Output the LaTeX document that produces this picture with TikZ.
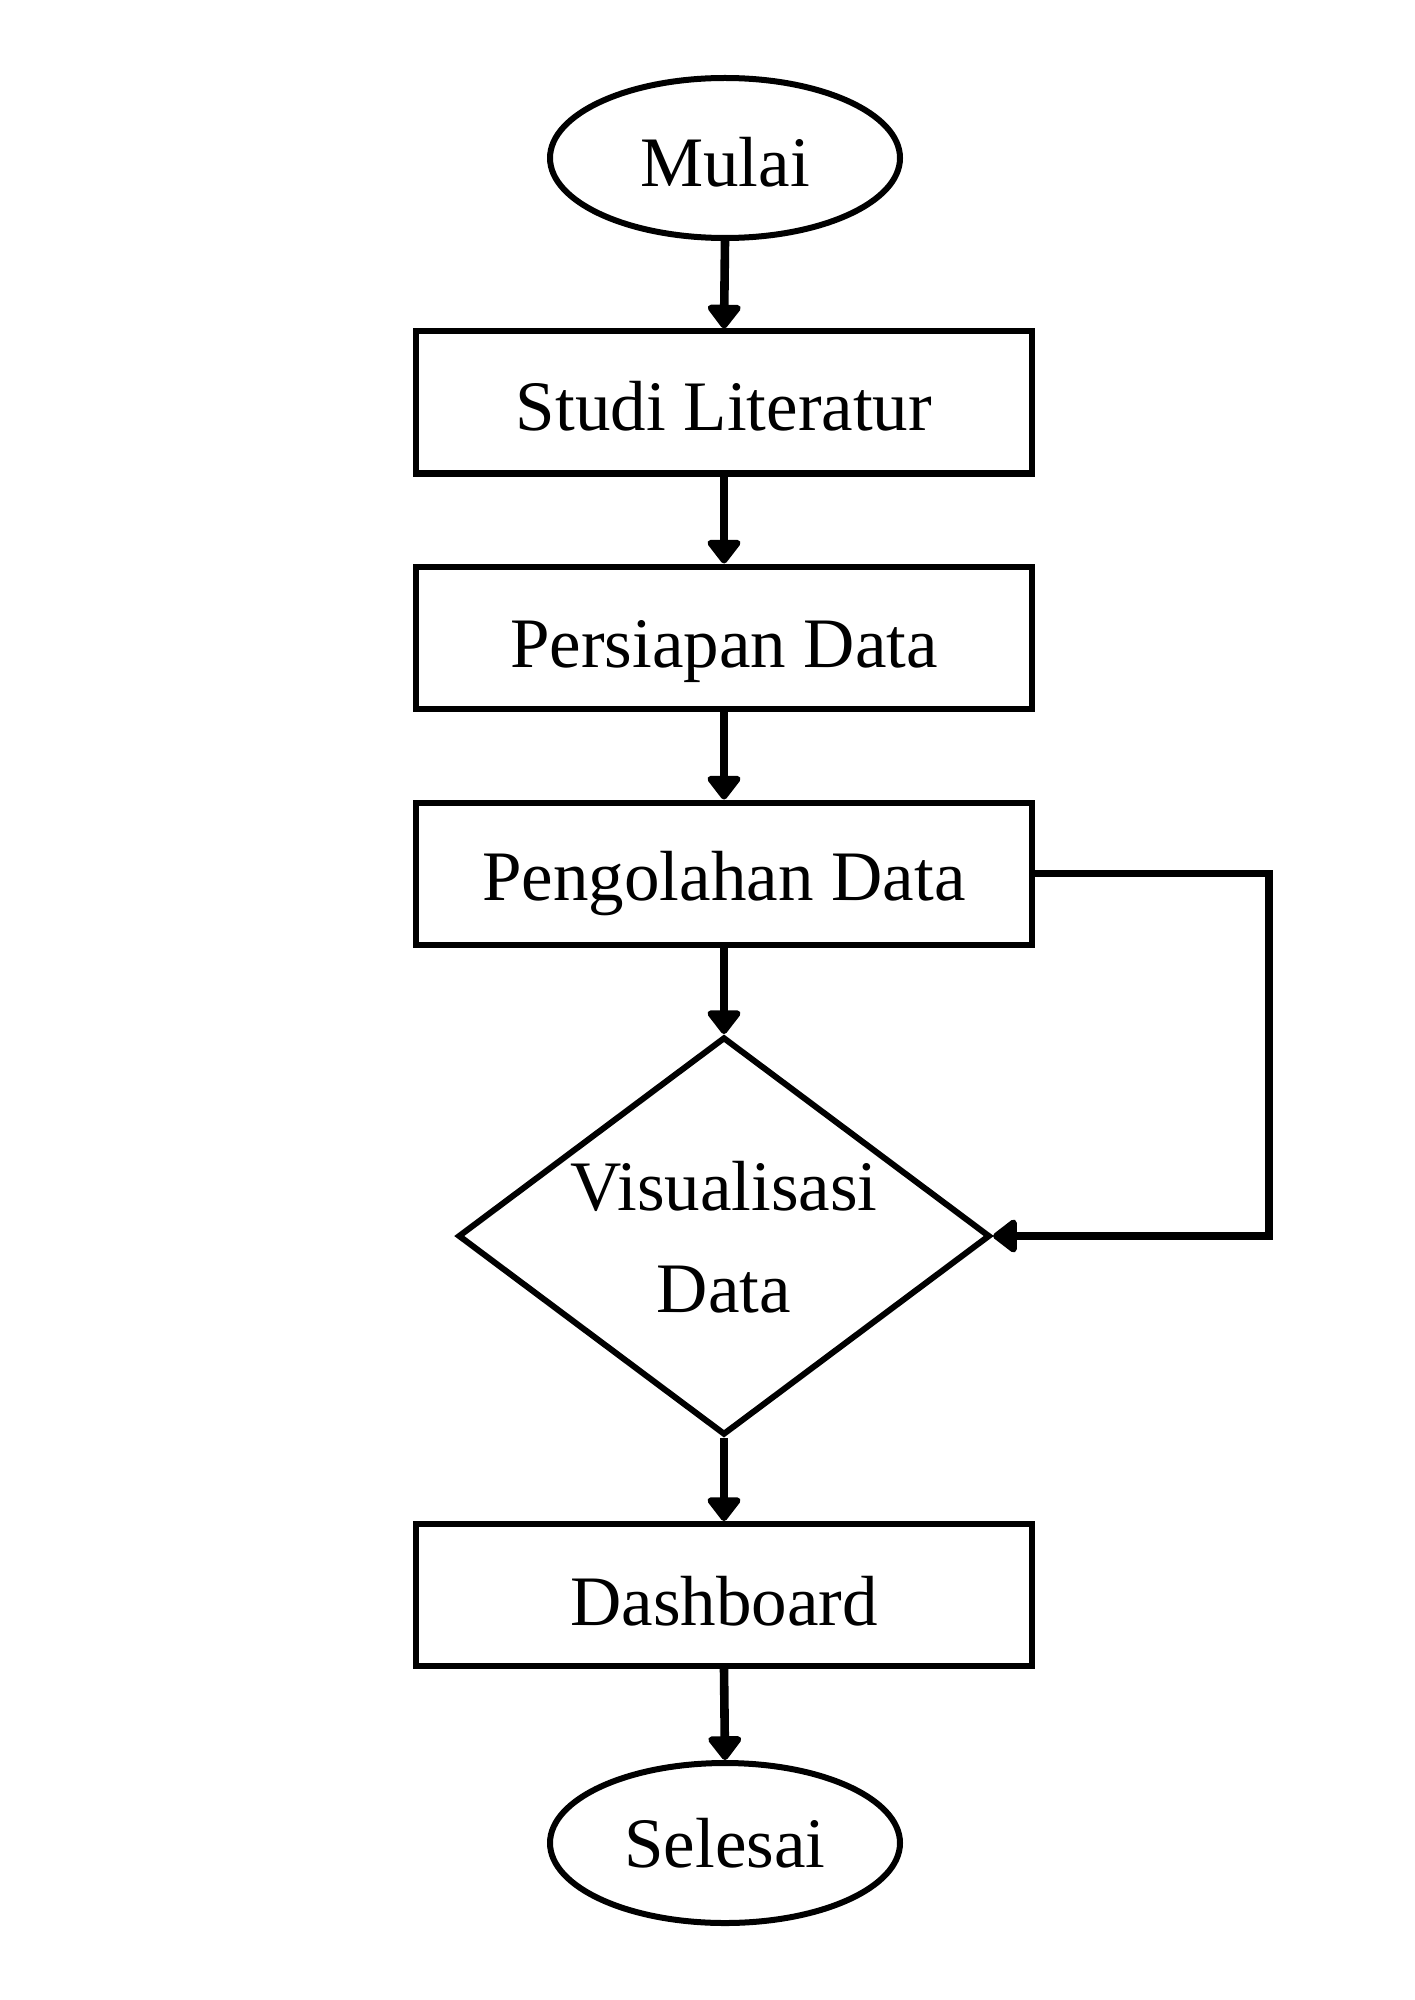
\documentclass[tikz,border=0pt]{standalone}
\usepackage{fontspec}
\setmainfont{Liberation Serif}
\usetikzlibrary{shapes.geometric,arrows.meta}
\newcommand{\lowtxt}[2]{\raisebox{-#1}[\height][\depth]{#2}}
\begin{document}
\begin{tikzpicture}[x=0.5pt,y=-0.5pt,
  every node/.style={font=\fontsize{35.5}{51}\selectfont, line width=3pt, inner sep=0pt},
  stepbox/.style={draw, rectangle, minimum width=308pt, minimum height=71pt},
  terminal/.style={draw, ellipse, minimum width=175pt, minimum height=80pt},
  decision/.style={draw, diamond, minimum width=266pt, minimum height=199pt},
  flow/.style={line width=4.3pt, -{Triangle[width=19pt,length=13pt,round]}},
  loopflow/.style={line width=3.6pt, -{Triangle[width=19pt,length=13pt,round]}}]
\useasboundingbox (0,0) rectangle (1414,2000);
\node[terminal] (mulai) at (725,158) {\lowtxt{2pt}{Mulai}};
\node[stepbox] (studi) at (724,402.5) {\lowtxt{2pt}{Studi Literatur}};
\node[stepbox] (persiapan) at (724,637.5) {\lowtxt{7pt}{Persiapan Data}};
\node[stepbox] (olah) at (724,873.5) {\lowtxt{5pt}{Pengolahan Data}};
\node[decision] (visual) at (724,1236) {\smash{\raisebox{-9pt}{\begin{tabular}{@{}c@{}}Visualisasi\\Data\end{tabular}}}};
\node[stepbox] (dash) at (724,1595) {\lowtxt{3pt}{Dashboard}};
\node[terminal] (selesai) at (725,1843) {Selesai};
\draw[flow] (mulai.south) -- (studi.north);
\draw[flow] (studi.south) -- (persiapan.north);
\draw[flow] (persiapan.south) -- (olah.north);
\draw[flow] (olah.south) -- (visual.north);
\draw[flow] (visual.south) -- (dash.north);
\draw[flow] (dash.south) -- (selesai.north);
\coordinate (loopc) at (1269,873.5);
\draw[loopflow] (olah.east) -- (loopc) |- (visual.east);
\end{tikzpicture}
\end{document}
